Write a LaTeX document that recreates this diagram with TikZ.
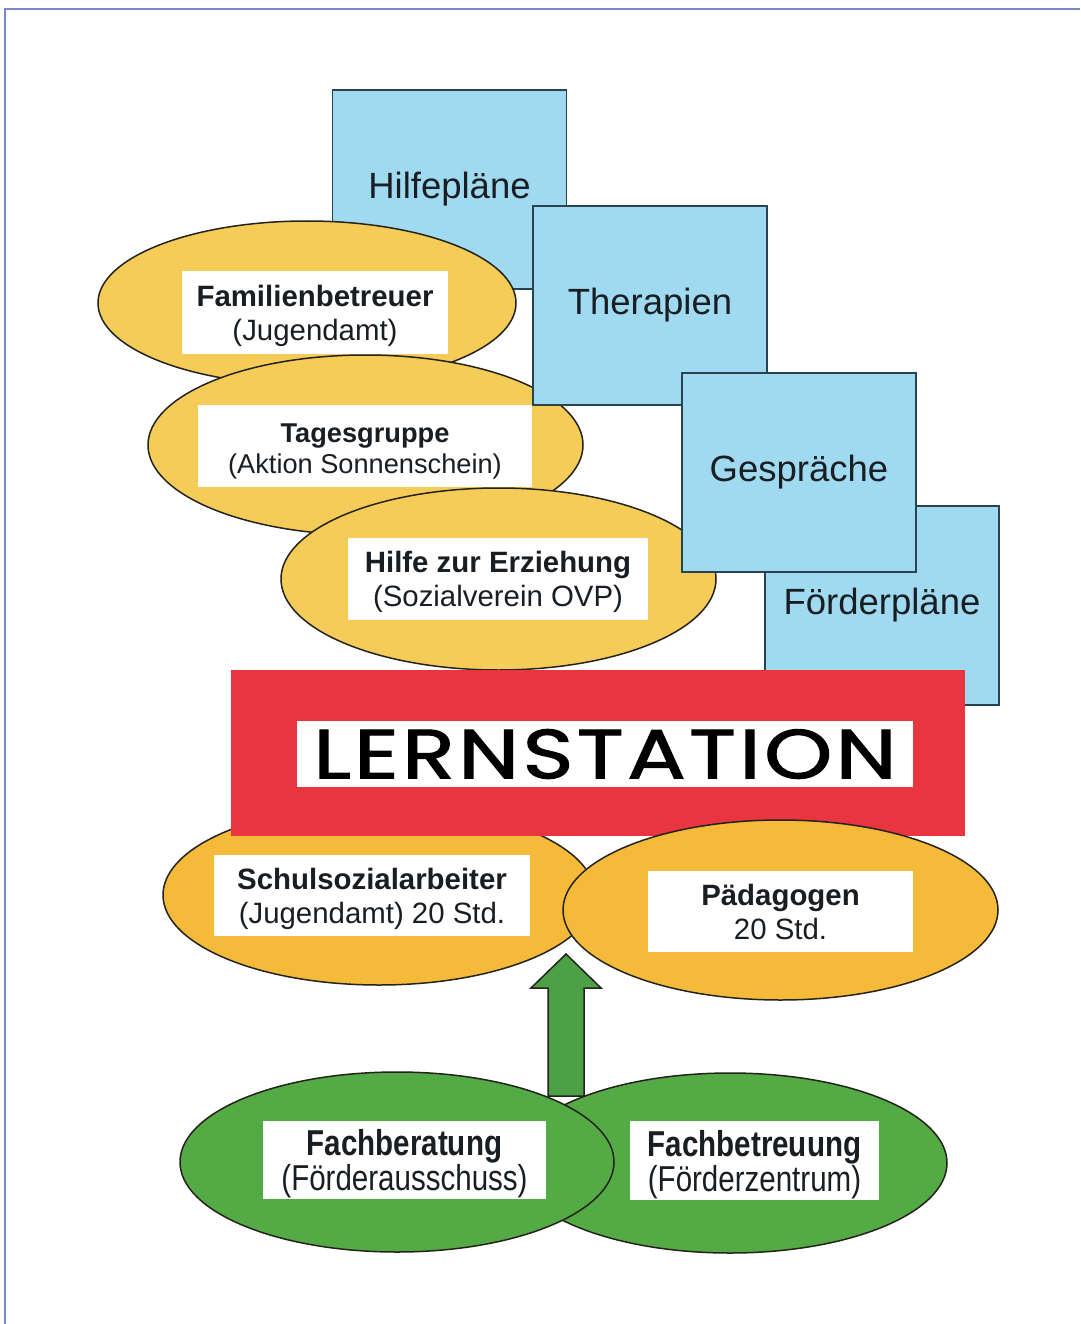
\documentclass[tikz,border=0pt]{standalone}
\usepackage{fontspec}
\usepackage{graphicx}
\setmainfont{Liberation Sans}
\newfontfamily\narrowfont[FakeStretch=0.82]{Liberation Sans}
\newfontfamily\lernfont[LetterSpace=4,FakeBold=1.6]{Poppins}
\newcommand\tagstrut{\rule{0pt}{0.95em}}
\usetikzlibrary{calc,shapes.geometric}

\definecolor{pagerule}{RGB}{122,136,204}
\definecolor{skyfill}{RGB}{160,218,240}
\definecolor{boxline}{RGB}{40,68,80}
\definecolor{sunfill}{RGB}{246,204,88}
\definecolor{orangefill}{RGB}{245,186,58}
\definecolor{leaffill}{RGB}{84,170,68}
\definecolor{arrowfill}{RGB}{76,160,70}
\definecolor{ovalline}{RGB}{35,35,28}
\definecolor{signred}{RGB}{232,53,63}
\definecolor{ink}{RGB}{25,30,35}

\begin{document}
\begin{tikzpicture}[x=1pt,y=-1pt,
    plan/.style={draw=boxline,line width=1.5pt,fill=skyfill,minimum width=234pt,minimum height=199pt,
        inner sep=0pt,text=ink,font=\fontsize{36.5}{40}\selectfont},
    oval/.style={ellipse,draw=ovalline,line width=1.5pt,inner sep=0pt},
    tag/.style={fill=white,inner sep=0pt,align=center,text=ink,font=\fontsize{29.4}{34}\selectfont},
    greentag/.style={tag,font=\narrowfont\fontsize{36}{35}\selectfont},
    flow/.style={draw=ovalline,line width=1.5pt,fill=arrowfill,line join=miter}]

    \useasboundingbox (0,0) rectangle (1080,1324);
    \draw[pagerule,line width=1.5pt] (1080,9) -- (5,9) -- (5,1324);

    \node[plan] (hilfeplan) at (449.5,189.5) {Hilfepläne};

    \node[oval,fill=sunfill,minimum width=418pt,minimum height=164pt] (familie) at (307,303) {};
    \node[tag,minimum width=266pt,minimum height=83pt] (familie-l) at (315,312.5)
        {\tagstrut\textbf{Familienbetreuer}\\(Jugendamt)};

    \node[oval,fill=sunfill,minimum width=435pt,minimum height=180pt] (tages) at (365.5,445) {};
    \node[tag,minimum width=334pt,minimum height=82pt,font=\fontsize{27.2}{31}\selectfont] (tages-l) at (365,446)
        {\rule{0pt}{1.1em}\textbf{Tagesgruppe}\\(Aktion Sonnenschein)};

    \node[plan] (therapie) at (650,305.5) {Therapien};

    \node[oval,fill=sunfill,minimum width=435pt,minimum height=182pt] (erziehung) at (498.5,579) {};
    \node[tag,minimum width=300pt,minimum height=82pt] (erziehung-l) at (498,579)
        {\tagstrut\textbf{Hilfe zur Erziehung}\\(Sozialverein OVP)};

    \node[plan] (foerderplan) at (882,605.5) {Förderpläne};
    \node[plan] (gespraech) at (799,472.5) {Gespräche};

    \node[oval,fill=orangefill,minimum width=432pt,minimum height=180pt] (schule) at (379,895) {};
    \node[tag,minimum width=316pt,minimum height=81pt] (schule-l) at (372,895.5)
        {\tagstrut\textbf{Schulsozialarbeiter}\\(Jugendamt) 20 Std.};

    \node[fill=signred,minimum width=734pt,minimum height=166pt,inner sep=0pt] (lern) at (598,753) {};
    \node[fill=white,minimum width=616pt,minimum height=66pt,inner sep=0pt] (lern-l) at (605,754)
        {\resizebox{583pt}{49pt}{\lernfont LERNSTATION}};

    \node[oval,fill=orangefill,minimum width=435pt,minimum height=180pt] (paed) at (780.5,910) {};
    \node[tag,minimum width=265pt,minimum height=81pt] (paed-l) at (780.5,911.5)
        {\textbf{Pädagogen}\\20 Std.};

    \node[oval,fill=leaffill,minimum width=434pt,minimum height=180pt] (betreuung) at (730,1163) {};
    \node[greentag,minimum width=249pt,minimum height=79pt] (betreuung-l) at (754.5,1160.5)
        {\tagstrut\textbf{Fachbetreuung}\\(Förderzentrum)};

    \node[oval,fill=leaffill,minimum width=434pt,minimum height=180pt] (beratung) at (397,1162) {};
    \node[greentag,minimum width=283pt,minimum height=78pt] (beratung-l) at (404.5,1160)
        {\tagstrut\textbf{Fachberatung}\\(Förderausschuss)};

    \coordinate (foot) at (566,1096);
    \coordinate (tip) at (566,954);
    \draw[flow] ($(foot)+(-18,0)$) -- ($(foot)+(18,0)$) -- ($(tip)+(18,34)$) -- ($(tip)+(35,34)$)
        -- (tip) -- ($(tip)+(-35,34)$) -- ($(tip)+(-18,34)$) -- cycle;
\end{tikzpicture}
\end{document}
